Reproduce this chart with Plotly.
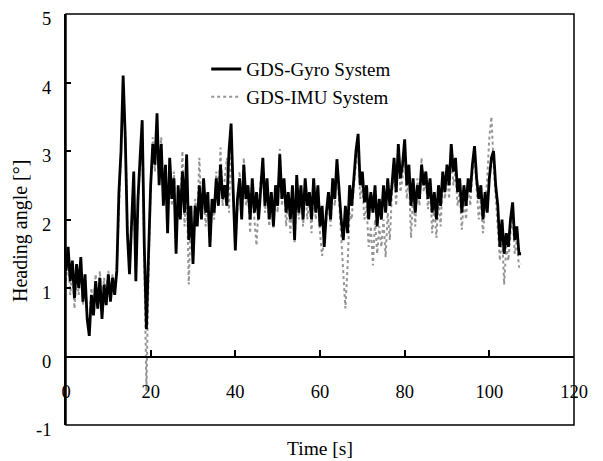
import plotly.graph_objects as go

# Time axis: 0 to 107.5 s in 0.5 s steps
time_s = [i * 0.5 for i in range(216)]

gyro_deg = [
    1.25, 1.6, 1.1, 1.4, 0.85, 1.35, 1.0, 1.45, 0.8, 1.2,
    0.55, 0.3, 0.9, 0.6, 1.1, 0.7, 1.15, 0.55, 1.05, 0.75,
    1.2, 0.8, 1.15, 0.9, 1.25, 2.4, 3.0, 4.1, 3.2, 1.8,
    1.2, 1.9, 2.7, 1.1, 2.3, 2.9, 3.45, 1.6, 0.4, 1.5,
    2.5, 3.1, 2.8, 3.55, 2.5, 3.1, 2.2, 2.8, 1.8, 2.9,
    2.3, 2.6, 1.5, 2.5, 2.0, 2.7, 2.1, 2.95, 1.7, 2.2,
    1.35, 2.2, 1.9, 2.5, 2.0, 2.6, 2.1, 2.4, 1.6, 2.3,
    2.1, 2.6, 2.2, 2.8, 2.3, 2.5, 2.2, 3.0, 3.4, 2.4,
    1.55, 2.3, 2.6, 2.0, 2.8, 2.3, 2.5, 2.0, 2.6, 2.1,
    2.4, 2.0, 2.5, 2.9, 2.2, 2.6, 2.0, 2.4, 1.9, 2.5,
    2.2, 2.95, 2.3, 2.6, 2.1, 2.4, 2.0, 2.5, 1.7, 2.65,
    2.1, 2.5, 2.0, 2.6, 2.2, 2.4, 2.0, 2.6, 2.1, 2.5,
    1.9, 2.2, 1.6, 2.1, 2.4, 2.0, 2.6, 2.3, 2.88, 2.4,
    2.0, 1.7, 2.2, 1.8, 2.5, 2.2, 2.6, 3.0, 3.25, 2.5,
    2.7, 2.25, 2.5, 2.0, 2.4, 2.1, 2.5, 1.9, 2.3, 2.0,
    2.5, 2.1, 2.6, 2.2, 2.5, 2.9, 2.4, 3.1, 2.6, 2.8,
    3.17, 2.5, 2.8, 2.2, 2.6, 2.1, 2.5, 2.3, 2.8, 2.5,
    2.7, 2.3, 2.6, 2.1, 2.4, 2.0, 2.5, 2.2, 2.7, 2.4,
    2.8, 2.5, 3.1, 2.7, 2.9, 2.4, 2.6, 2.1, 2.5, 2.2,
    2.6, 2.4, 2.8, 3.07, 2.6, 2.3, 2.5, 2.0, 2.4, 2.1,
    2.6, 2.9, 3.0, 2.5, 2.2, 1.6, 2.0, 1.5, 1.8, 1.6,
    2.0, 2.25, 1.7, 1.9, 1.5, 1.5,
]

imu_deg = [
    1.1, 1.5, 0.9, 1.3, 0.7, 1.2, 0.9, 1.3, 0.75, 1.1,
    0.6, 0.45, 1.0, 0.7, 1.2, 0.8, 1.25, 0.7, 1.15, 0.85,
    1.25, 0.9, 1.2, 0.95, 1.3, 2.3, 3.0, 3.9, 3.3, 1.9,
    1.3, 2.0, 2.6, 1.2, 2.2, 2.8, 3.3, 1.4, -0.5, 1.2,
    2.5, 3.2, 2.7, 3.4, 2.6, 3.2, 2.3, 2.8, 1.9, 2.9,
    2.2, 2.7, 1.6, 2.4, 2.1, 3.0, 1.9, 2.6, 1.05, 2.1,
    1.4, 2.3, 2.0, 2.9, 2.1, 2.4, 1.9, 2.3, 1.6, 2.2,
    2.0, 2.7, 2.3, 3.05, 2.2, 2.6, 2.9, 2.1, 3.2, 2.3,
    1.6, 2.2, 2.7, 2.1, 2.9, 2.2, 2.4, 1.8, 2.5, 2.0,
    1.62, 2.2, 2.6, 2.8, 2.1, 2.5, 1.9, 2.3, 1.88, 2.4,
    2.1, 3.03, 2.2, 2.5, 1.9, 2.3, 1.8, 2.4, 1.65, 2.5,
    2.0, 2.4, 1.9, 2.5, 2.0, 2.3, 1.8, 2.5, 2.0, 2.4,
    1.8, 1.47, 1.7, 2.0, 2.3, 1.9, 2.5, 2.2, 2.8, 2.3,
    1.8, 1.2, 0.7, 1.3, 2.1, 2.0, 2.5, 2.8, 3.0, 2.3,
    2.5, 2.0, 2.2, 1.6, 1.9, 1.33, 2.0, 1.5, 1.9, 1.6,
    2.0, 1.45, 2.1, 1.7, 2.4, 2.7, 2.2, 3.0, 2.4, 2.6,
    3.0, 2.3, 2.6, 1.73, 2.4, 1.9, 2.6, 2.2, 2.9, 2.4,
    2.6, 2.15, 2.5, 1.8, 2.2, 1.73, 2.3, 1.9, 2.6, 2.3,
    2.7, 2.3, 3.0, 2.5, 2.7, 2.2, 2.4, 1.85, 2.3, 2.0,
    2.5, 2.2, 2.7, 2.9, 2.4, 2.0, 2.3, 1.8, 2.2, 2.6,
    3.2, 3.5, 2.8, 2.3, 1.9, 1.4, 1.8, 1.05, 1.6, 1.4,
    1.8, 2.1, 1.5, 1.7, 1.3, 1.35,
]

x_ticks = [0, 20, 40, 60, 80, 100, 120]
y_ticks = [-1, 0, 1, 2, 3, 4, 5]
y_tick_text = ["-1", "0", "1", "2", "3", "4", "5"]

FONT = "Liberation Serif"

fig = go.Figure()
fig.add_trace(go.Scatter(
    x=time_s, y=imu_deg, mode="lines", name="GDS-IMU System",
    line=dict(color="#959595", width=2.0, dash="dot"), legendrank=2,
    legendgroup="imu",
))
fig.add_trace(go.Scatter(
    x=time_s, y=gyro_deg, mode="lines", name="GDS-Gyro System",
    line=dict(color="black", width=2.8), legendrank=1,
    legendgroup="gyro",
))

# y tick labels sit slightly below their ticks in the original
annotations = [
    dict(text=t, xref="paper", yref="y", x=-0.026, y=v, yshift=-5,
         xanchor="right", yanchor="middle", showarrow=False,
         font=dict(size=18.5, family=FONT))
    for v, t in zip(y_ticks, y_tick_text)
]
annotations.append(dict(text="Time [s]", xref="paper", yref="paper", x=0.5, y=-0.056,
                        xanchor="center", yanchor="middle", showarrow=False,
                        font=dict(size=19.5, family=FONT)))
annotations.append(dict(text="Heading angle [°]", xref="paper", yref="paper",
                        x=-0.0906, y=0.472, textangle=-90,
                        xanchor="center", yanchor="middle", showarrow=False,
                        font=dict(size=20, family=FONT)))

# page body has an 8px default margin, so the figure is 8px smaller each way
fig.update_layout(
    width=595, height=453,
    margin=dict(l=58, r=29, t=6, b=36, autoexpand=False),
    paper_bgcolor="white", plot_bgcolor="white",
    font=dict(family=FONT, size=18.5, color="black"),
    showlegend=True,
    legend=dict(x=0.276, y=0.912, xanchor="left", yanchor="top",
                bgcolor="rgba(0,0,0,0)", font=dict(size=19, family=FONT),
                traceorder="grouped", tracegroupgap=0),
    xaxis=dict(
        range=[0, 120], tickvals=x_ticks, ticktext=[str(v) for v in x_ticks],
        anchor="free", position=1/6, automargin=False,
        showline=True, linecolor="black", linewidth=1.5,
        ticks="inside", ticklen=6, tickcolor="black", tickwidth=1.5,
        ticklabelstandoff=19, ticklabeloverflow="allow",
        tickfont=dict(size=18.5, family=FONT),
        showgrid=False, zeroline=False,
    ),
    yaxis=dict(
        range=[-1, 5], tickvals=y_ticks, showticklabels=False,
        automargin=False,
        showline=True, linecolor="black", linewidth=1.5,
        ticks="inside", ticklen=5, tickcolor="black", tickwidth=1.5,
        showgrid=False, zeroline=False,
    ),
    shapes=[dict(type="rect", xref="paper", yref="paper", x0=0, y0=0, x1=1, y1=1,
                 line=dict(color="black", width=1.5))],
    annotations=annotations,
)

fig.write_html("out.html")
